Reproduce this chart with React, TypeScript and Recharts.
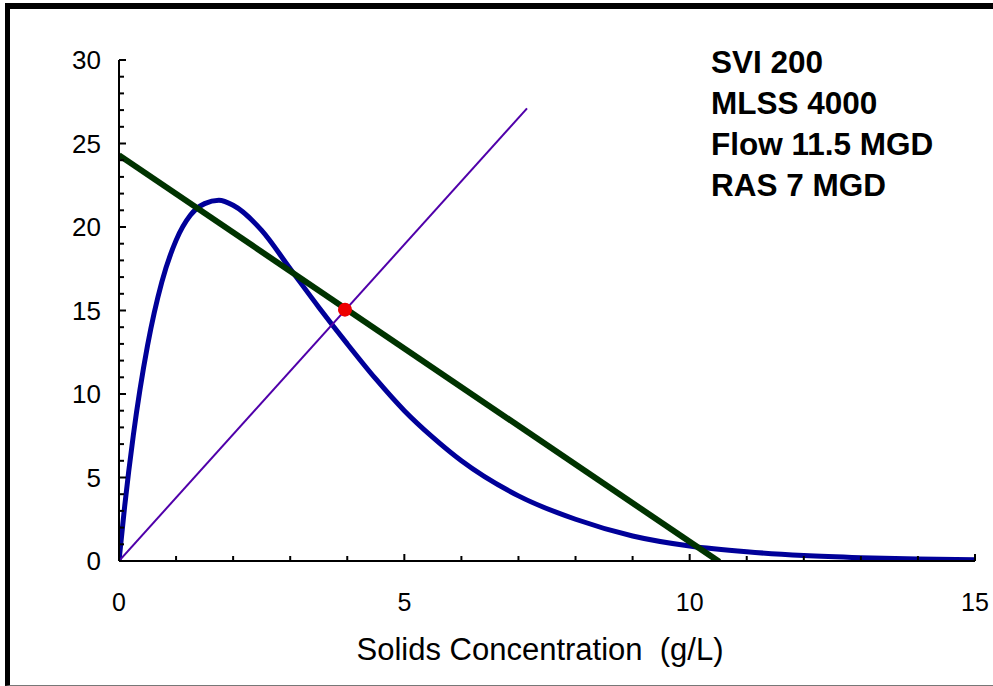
import React from "react";
import {
  ComposedChart,
  Line,
  Scatter,
  XAxis,
  YAxis,
} from "recharts";

// solids flux curve (g/L vs flux)
const fluxX = [0, 0.1, 0.25, 0.5, 0.75, 1, 1.25, 1.5, 1.75, 2, 2.5, 3, 3.5, 4, 4.5, 5, 5.5, 6, 7, 8, 9, 10, 11, 12, 13, 14, 15];
const fluxY = [0, 3.3, 7.5, 12.9, 16.7, 19.2, 20.7, 21.4, 21.6, 21.3, 19.8, 17.5, 15.2, 13.0, 10.9, 9.0, 7.4, 6.0, 3.9, 2.5, 1.5, 0.9, 0.55, 0.33, 0.2, 0.12, 0.07];

// overflow rate (state point) line
const overflowX = [0, 10.52];
const overflowY = [24.3, -0.05];

// underflow rate line
const underflowX = [0, 7.15];
const underflowY = [0, 27.1];

// state point
const stateX = [3.96];
const stateY = [15.05];

const xTicks = [0, 1, 2, 3, 4, 5, 6, 7, 8, 9, 10, 11, 12, 13, 14, 15];
const yTicks = [0, 1, 2, 3, 4, 5, 6, 7, 8, 9, 10, 11, 12, 13, 14, 15, 16, 17, 18, 19, 20, 21, 22, 23, 24, 25, 26, 27, 28, 29, 30];

const notes = ["SVI 200", "MLSS 4000", "Flow 11.5 MGD", "RAS 7 MGD"];

const zip = (xs: number[], ys: number[]) => xs.map((x, i) => ({ x, y: ys[i] }));

const fluxData = zip(fluxX, fluxY);
const overflowData = zip(overflowX, overflowY);
const underflowData = zip(underflowX, underflowY);
const stateData = zip(stateX, stateY);

const FONT = '"Liberation Sans", Arial, sans-serif';

const XTick = (props: any) => {
  const { x, y, payload } = props;
  const major = payload.value % 5 === 0;
  return (
    <g>
      <line x1={x} x2={x} y1={y} y2={y - (major ? 7 : 5)} stroke="#000" strokeWidth={2} />
      {major && (
        <text x={x} y={y + 50} textAnchor="middle" fontSize={25} fontFamily={FONT} fill="#000">
          {payload.value}
        </text>
      )}
    </g>
  );
};

const YTick = (props: any) => {
  const { x, y, payload } = props;
  const major = payload.value % 5 === 0;
  return (
    <g>
      <line x1={x} x2={x + (major ? 7 : 5)} y1={y} y2={y} stroke="#000" strokeWidth={2} />
      {major && (
        <text x={x - 18} y={y} dy="0.35em" textAnchor="end" fontSize={26} fontFamily={FONT} fill="#000">
          {payload.value}
        </text>
      )}
    </g>
  );
};

const AxisTitle = (props: any) => {
  const { viewBox } = props;
  return (
    <text
      x={viewBox.x + viewBox.width / 2 - 7}
      y={viewBox.y + 99}
      textAnchor="middle"
      fontSize={31}
      fontFamily={FONT}
      fill="#000"
      style={{ whiteSpace: "pre" }}
    >
      {"Solids Concentration  (g/L)"}
    </text>
  );
};

export default function App() {
  return (
    <div
      style={{
        position: "absolute",
        left: 0,
        top: 0,
        width: 993,
        height: 686,
        overflow: "hidden",
        background: "#fff",
      }}
    >
      {/* frame */}
      <div
        style={{
          position: "absolute",
          left: 5,
          top: 3,
          width: 1000,
          height: 676,
          borderLeft: "5px solid #000",
          borderTop: "6px solid #000",
          borderBottom: "1px solid #777",
        }}
      />

      <ComposedChart
        width={993}
        height={686}
        margin={{ top: 60, right: 18, left: 0, bottom: 0 }}
        style={{ position: "absolute", left: 0, top: 0 }}
      >
        <XAxis
          dataKey="x"
          type="number"
          domain={[0, 15]}
          ticks={xTicks}
          interval={0}
          height={125}
          tickSize={0}
          tickMargin={0}
          tickLine={false}
          tick={<XTick />}
          axisLine={{ stroke: "#000", strokeWidth: 2 }}
          allowDataOverflow
          label={<AxisTitle />}
        />
        <YAxis
          type="number"
          domain={[0, 30]}
          ticks={yTicks}
          interval={0}
          width={119}
          tickSize={0}
          tickMargin={0}
          tickLine={false}
          tick={<YTick />}
          axisLine={{ stroke: "#000", strokeWidth: 2 }}
          allowDataOverflow
        />
        <Line
          data={fluxData}
          dataKey="y"
          type="monotone"
          stroke="#000099"
          strokeWidth={5}
          dot={false}
          isAnimationActive={false}
        />
        <Line
          data={overflowData}
          dataKey="y"
          type="linear"
          stroke="#003300"
          strokeWidth={6}
          dot={false}
          isAnimationActive={false}
        />
        <Line
          data={underflowData}
          dataKey="y"
          type="linear"
          stroke="#5000aa"
          strokeWidth={2}
          dot={false}
          isAnimationActive={false}
        />
        <Scatter
          data={stateData}
          dataKey="y"
          fill="#ee0000"
          isAnimationActive={false}
          shape={(p: any) => <circle cx={p.cx} cy={p.cy} r={7} fill="#ee0000" />}
        />
      </ComposedChart>

      {/* conditions */}
      <div
        style={{
          position: "absolute",
          left: 711,
          top: 42,
          fontFamily: FONT,
          fontWeight: "bold",
          fontSize: 31.5,
          lineHeight: "41px",
          color: "#000",
        }}
      >
        {notes.map((n) => (
          <div key={n}>{n}</div>
        ))}
      </div>
    </div>
  );
}
